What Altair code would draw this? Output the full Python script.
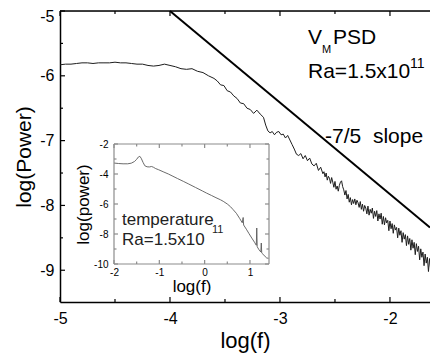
import altair as alt
import pandas as pd

# ---------------- data ----------------
main_logf = [
    -5.00, -4.95, -4.90, -4.85, -4.80, -4.75, -4.70, -4.65, -4.60, -4.55,
    -4.50, -4.45, -4.40, -4.35, -4.30, -4.25, -4.20, -4.15, -4.10, -4.05,
    -4.00, -3.95, -3.90, -3.85, -3.80, -3.75, -3.70, -3.65, -3.60,
    -3.57, -3.54, -3.51, -3.48, -3.45, -3.42, -3.39, -3.36, -3.33, -3.30,
    -3.27, -3.24, -3.21, -3.18, -3.15,
    -3.13, -3.11, -3.09, -3.07, -3.05, -3.03, -3.01, -2.99, -2.97, -2.95,
    -2.93, -2.91, -2.89, -2.87, -2.85, -2.83, -2.81, -2.79, -2.77, -2.75,
    -2.73, -2.71, -2.69, -2.67, -2.65, -2.63, -2.61,
    -2.60, -2.59, -2.58, -2.57, -2.56, -2.55, -2.54, -2.53, -2.52, -2.51,
    -2.50, -2.49, -2.48, -2.47, -2.46, -2.45, -2.44, -2.43, -2.42, -2.41,
    -2.40, -2.39, -2.38, -2.37, -2.36, -2.35, -2.34, -2.33, -2.32, -2.31,
    -2.30, -2.29, -2.28, -2.27, -2.26, -2.25, -2.24, -2.23, -2.22, -2.21,
    -2.20, -2.19, -2.18, -2.17, -2.16, -2.15, -2.14, -2.13, -2.12, -2.11,
    -2.10, -2.09, -2.08, -2.07, -2.06, -2.05, -2.04, -2.03, -2.02, -2.01,
    -2.00, -1.99, -1.98, -1.97, -1.96, -1.95, -1.94, -1.93, -1.92, -1.91,
    -1.90, -1.89, -1.88, -1.87, -1.86, -1.85, -1.84, -1.83, -1.82, -1.81,
    -1.80, -1.79, -1.78, -1.77, -1.76, -1.75, -1.74, -1.73, -1.72, -1.71,
    -1.70, -1.69, -1.68, -1.67, -1.66, -1.65, -1.64, -1.63, -1.62, -1.61,
    -1.60, -1.59, -1.58, -1.57, -1.56,
]
main_logp = [
    -5.83, -5.82, -5.82, -5.81, -5.80, -5.80, -5.81, -5.80, -5.80, -5.80,
    -5.79, -5.80, -5.80, -5.81, -5.82, -5.82, -5.84, -5.85, -5.84, -5.82,
    -5.84, -5.86, -5.89, -5.90, -5.89, -5.93, -5.95, -6.00, -6.04,
    -6.08, -6.14, -6.15, -6.23, -6.25, -6.31, -6.35, -6.42, -6.43, -6.50,
    -6.52, -6.58, -6.53, -6.59, -6.64,
    -6.76, -6.85, -6.88, -6.86, -6.91, -6.87, -6.86, -6.91, -6.90, -6.96,
    -6.92, -6.99, -7.06, -7.13, -7.21, -7.23, -7.20, -7.28, -7.23, -7.31,
    -7.27, -7.36, -7.39, -7.35, -7.46, -7.41, -7.51,
    -7.48, -7.56, -7.50, -7.61, -7.55, -7.58, -7.66, -7.57, -7.64, -7.72,
    -7.63, -7.75, -7.70, -7.78, -7.69, -7.64, -7.62, -7.71, -7.76, -7.84,
    -7.77, -7.90, -7.83, -7.95, -7.88, -7.99, -7.91, -7.97, -7.90, -7.99,
    -7.92, -7.96, -8.03, -7.94, -8.06, -7.98, -8.09, -8.00, -8.04, -8.13,
    -8.01, -8.15, -8.06, -8.12, -8.04, -8.20, -8.09, -8.17, -8.08, -8.24,
    -8.13, -8.21, -8.12, -8.29, -8.17, -8.30, -8.19, -8.27, -8.23, -8.39,
    -8.24, -8.36, -8.28, -8.43, -8.30, -8.38, -8.34, -8.50, -8.35, -8.46,
    -8.39, -8.57, -8.42, -8.52, -8.45, -8.62, -8.47, -8.60, -8.51, -8.69,
    -8.53, -8.66, -8.57, -8.76, -8.59, -8.71, -8.63, -8.84, -8.67, -8.80,
    -8.72, -8.93, -8.75, -8.89, -8.80, -9.02, -8.82, -8.98, -8.88, -9.08,
    -8.91, -9.06, -8.94, -9.12, -8.98,
]

# -7/5 reference line
slope_logf = [-4.0, -1.636]
slope_logp = [-5.0, -8.34]

# inset: temperature spectrum
inset_logf = [
    -2.00, -1.90, -1.80, -1.70, -1.62, -1.55, -1.50, -1.46, -1.43, -1.40,
    -1.36, -1.32, -1.27, -1.22, -1.17, -1.13, -1.08, -1.02, -0.90, -0.80,
    -0.70, -0.60, -0.47, -0.35, -0.20, -0.05, 0.04, 0.15, 0.25, 0.35,
    0.41, 0.50, 0.57, 0.63, 0.70, 0.77, 0.83, 0.85, 0.86, 0.92,
    0.98, 1.04, 1.10, 1.14, 1.15, 1.16, 1.20, 1.24, 1.25, 1.26,
    1.31, 1.37, 1.41,
]
inset_logp = [
    -3.27, -3.30, -3.32, -3.32, -3.28, -3.17, -3.02, -2.86, -2.82, -2.95,
    -3.22, -3.45, -3.52, -3.53, -3.50, -3.55, -3.64, -3.71, -3.87, -4.00,
    -4.15, -4.30, -4.49, -4.67, -4.90, -5.13, -5.27, -5.43, -5.58, -5.72,
    -5.82, -6.00, -6.18, -6.38, -6.62, -6.95, -7.25, -6.90, -7.40, -7.68,
    -7.98, -8.27, -8.55, -8.75, -7.60, -8.85, -9.05, -9.20, -8.60, -9.27,
    -9.42, -9.60, -9.62,
]

main_x_major = [-5, -4, -3, -2]
main_x_minor = [-4.5, -3.5, -2.5]
main_y_major = [-9, -8, -7, -6, -5]
main_y_minor = [-8.5, -7.5, -6.5, -5.5]
inset_x_major = [-2, -1, 0, 1]
inset_x_minor = [-1.5, -0.5, 0.5]
inset_y_major = [-10, -8, -6, -4, -2]
inset_y_minor = [-9, -7, -5, -3]

# ---------------- layout ----------------
W, H = 370, 291
FONT = "Liberation Sans"
IX0, IX1, IY0, IY1 = 54, 209, 253, 133   # inset box in plot pixels

main_df = pd.DataFrame({"logf": main_logf, "logp": main_logp})
slope_df = pd.DataFrame({"logf": slope_logf, "logp": slope_logp})
inset_df = pd.DataFrame({"logf": inset_logf, "logp": inset_logp})
one = pd.DataFrame({"k": [0]})


def xs():
    return alt.Scale(domain=[-5, -1.636], range=[0, W], nice=False, zero=False)


def ys():
    return alt.Scale(domain=[-9.49, -5], range=[H, 0], nice=False, zero=False)


def xi():
    return alt.Scale(domain=[-2, 1.42], range=[IX0, IX1], nice=False, zero=False)


def yi():
    return alt.Scale(domain=[-10, -2], range=[IY0, IY1], nice=False, zero=False)


lbl = "replace(datum.label, '\u2212', '-')"

main_curve = alt.Chart(main_df).mark_line(color="#1e1e1e", strokeWidth=1.0, clip=True).encode(
    x=alt.X("logf:Q", scale=xs(), axis=alt.Axis(
        orient="bottom", values=main_x_major, labelExpr=lbl, title="log(f)",
        ticks=False, grid=False, domainColor="black", domainWidth=1.5,
        labelFontSize=16, labelPadding=8, labelColor="black", labelFlush=False,
        titleFontSize=22, titlePadding=4, titleFontWeight="normal", titleColor="black")),
    y=alt.Y("logp:Q", scale=ys(), axis=alt.Axis(
        orient="left", values=main_y_major, labelExpr=lbl, title="log(Power)",
        ticks=False, grid=False, domainColor="black", domainWidth=1.5,
        labelFontSize=16, labelPadding=6, labelColor="black",
        labelFlush=True, labelFlushOffset=3,
        titleFontSize=21, titlePadding=5, titleFontWeight="normal", titleColor="black")),
)

slope = alt.Chart(slope_df).mark_line(color="black", strokeWidth=2).encode(
    x=alt.X("logf:Q", scale=xs(), axis=None),
    y=alt.Y("logp:Q", scale=ys(), axis=None),
)


def xticks(vals, scale, ybase, length, color, direction):
    d = pd.DataFrame({"t": vals})
    return alt.Chart(d).mark_rule(color=color, strokeWidth=1.2).encode(
        x=alt.X("t:Q", scale=scale, axis=None),
        y=alt.value(ybase), y2=alt.value(ybase + direction * length))


def yticks(vals, scale, xbase, length, color, direction):
    d = pd.DataFrame({"t": vals})
    return alt.Chart(d).mark_rule(color=color, strokeWidth=1.2).encode(
        y=alt.Y("t:Q", scale=scale, axis=None),
        x=alt.value(xbase), x2=alt.value(xbase + direction * length))


def text(txt, x, y, size, xscale, yscale, color="black"):
    return alt.Chart(one).mark_text(
        text=txt, fontSize=size, align="left", baseline="alphabetic", color=color, font=FONT
    ).encode(
        x=alt.XDatum(datum=x, scale=xscale, axis=None),
        y=alt.YDatum(datum=y, scale=yscale, axis=None),
    )


top_border = alt.Chart(one).mark_rule(color="black", strokeWidth=1.5).encode(
    x=alt.value(0), x2=alt.value(W), y=alt.value(0))

frame_color = "#8c8c8c"
inset_curve = alt.Chart(inset_df).mark_line(color="#5a5a5a", strokeWidth=0.9).encode(
    x=alt.X("logf:Q", scale=xi(), axis=alt.Axis(
        orient="bottom", offset=-(H - IY0), values=inset_x_major, labelExpr=lbl,
        title="log(f)", domain=False, ticks=False, grid=False,
        labelFontSize=10, labelPadding=3, labelColor="black", labelFlush=False,
        titleFontSize=17, titlePadding=1, titleFontWeight="normal", titleColor="black")),
    y=alt.Y("logp:Q", scale=yi(), axis=alt.Axis(
        orient="left", offset=-IX0, values=inset_y_major, labelExpr=lbl,
        title="log(power)", domain=False, ticks=False, grid=False,
        labelFontSize=10, labelPadding=6, labelColor="black",
        titleFontSize=17, titlePadding=1, titleFontWeight="normal", titleColor="black")),
)


def frame_edge(x1, x2, y1, y2):
    return alt.Chart(one).mark_rule(color=frame_color, strokeWidth=1.2).encode(
        x=alt.XDatum(datum=x1, scale=xi(), axis=None),
        x2=alt.X2Datum(datum=x2),
        y=alt.YDatum(datum=y1, scale=yi(), axis=None),
        y2=alt.Y2Datum(datum=y2),
    )


layers = [
    main_curve, slope, top_border,
    xticks(main_x_major, xs(), H, 5, "black", -1),
    xticks(main_x_minor, xs(), H, 3, "black", -1),
    xticks(main_x_major, xs(), 0, 5, "black", 1),
    xticks(main_x_minor, xs(), 0, 3, "black", 1),
    yticks(main_y_major, ys(), 0, 5, "black", 1),
    yticks(main_y_minor, ys(), 0, 3, "black", 1),
    text("V", -2.745, -5.508, 21, xs(), ys()),
    text("M", -2.618, -5.646, 11, xs(), ys()),
    text("PSD", -2.518, -5.508, 21, xs(), ys()),
    text("Ra=1.5x10", -2.745, -6.03, 21, xs(), ys()),
    text("11", -1.818, -5.877, 14, xs(), ys()),
    text("-7/5\u00a0 slope", -2.59, -7.03, 21, xs(), ys()),
    inset_curve,
    frame_edge(-2, 1.42, -10, -10),
    frame_edge(-2, -2, -10, -2),
    frame_edge(-2, 1.42, -2, -2),
    frame_edge(1.42, 1.42, -10, -2),
    xticks(inset_x_major, xi(), IY0, 4, frame_color, -1),
    xticks(inset_x_minor, xi(), IY0, 2.5, frame_color, -1),
    xticks(inset_x_major, xi(), IY1, 4, frame_color, 1),
    xticks(inset_x_minor, xi(), IY1, 2.5, frame_color, 1),
    yticks(inset_y_major, yi(), IX0, 4, frame_color, 1),
    yticks(inset_y_minor, yi(), IX0, 2.5, frame_color, 1),
    yticks(inset_y_major, yi(), IX1, 4, frame_color, -1),
    yticks(inset_y_minor, yi(), IX1, 2.5, frame_color, -1),
    text("temperature", -1.823, -7.4, 17, xi(), yi(), "#222222"),
    text("Ra=1.5x10", -1.823, -8.73, 17, xi(), yi(), "#222222"),
    text("11", 0.163, -7.93, 11, xi(), yi(), "#222222"),
]

chart = alt.layer(*layers).resolve_scale(
    x="independent", y="independent"
).properties(
    width=W, height=H,
    padding={"left": 52, "top": 3, "right": 0, "bottom": 51},
    autosize=alt.AutoSizeParams(type="none"),
).configure_view(stroke=None).configure(font=FONT)

chart.save("out.html", embed_options={"renderer": "svg", "actions": False})
